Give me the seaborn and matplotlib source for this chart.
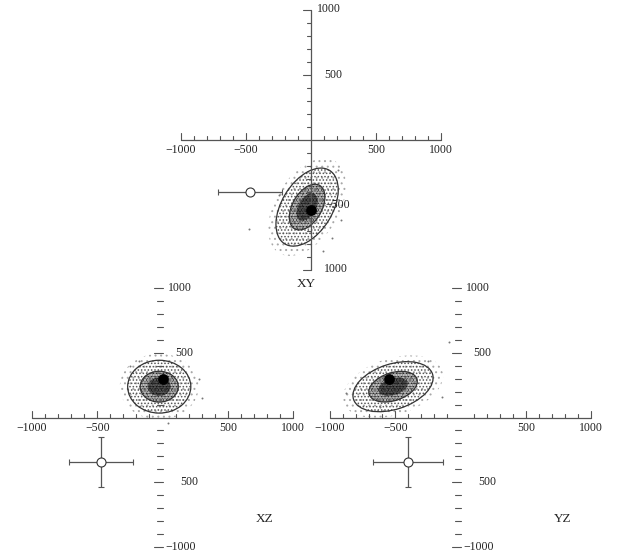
import pandas as pd
import seaborn as sns
import matplotlib.pyplot as plt
from matplotlib.patches import Ellipse

# cloud mean (filled dot) and reference point (open circle), order X, Y, Z
mean_xyz = [0, -545, 300]
ref_xyz = [-470, -405, -345]
ref_err = [245, 268, 195]

panels = ["XY", "XZ", "YZ"]
# ellipse centres and (full width, full height, angle)
ell_center = {"XY": (-30, -520), "XZ": (-25, 238), "YZ": (-517, 238)}
outer_ell = {"XY": (662, 390, 58.6), "XZ": (484, 408, 0), "YZ": (636, 350, 18)}
inner_ell = {"XY": (385, 225, 60), "XZ": (292, 238, 0), "YZ": (385, 215, 18)}

# a few stray points outside the main cloud
stray_x = {"XY": [-477, 208, 160, -250, 90, 230],
           "XZ": [306, -250, 280, -180, 40],
           "YZ": [-90, -250, -140, -880, -620]}
stray_y = {"XY": [-685, -235, -760, -430, -860, -620],
           "XZ": [153, 400, 300, 440, -40],
           "YZ": [580, 440, 160, 190, 80]}

# which coordinate goes on each panel's axes
panel_idx = {"XY": (0, 1), "XZ": (0, 2), "YZ": (1, 2)}
ref_has_vbar = {"XY": False, "XZ": True, "YZ": True}

# axes boxes in pixels: left, right, top, bottom of the -1000..1000 square
W, H = 618, 559
boxes = {"XY": (181, 441, 9.5, 269.5), "XZ": (32, 293, 288, 547), "YZ": (330, 591, 288, 547)}

sns.set_theme(style="white")
plt.rcParams['font.family'] = ['Liberation Serif', 'DejaVu Serif']
plt.rcParams['hatch.linewidth'] = 0.7
AX = "#555555"
TXT = "#222222"

fig = plt.figure(figsize=(W / 100, H / 100), dpi=100)


def cross_axes(ax, solid_v):
    ax.plot([-1000, 1000], [0, 0], color=AX, lw=0.9, clip_on=False)
    for t in range(-1000, 1001, 100):
        if t == 0:
            continue
        ln = 52 if t % 500 == 0 else 24
        ax.plot([t, t], [0, ln], color=AX, lw=0.8, clip_on=False)
    if solid_v:
        ax.plot([0, 0], [-1000, 1000], color=AX, lw=0.9, clip_on=False)
        for t in range(-1000, 1001, 100):
            if t == 0:
                continue
            ln = 60 if t % 500 == 0 else 30
            ax.plot([-ln, 0], [t, t], color=AX, lw=0.8, clip_on=False)
    else:
        for t in range(-1000, 1001, 100):
            if t == 0:
                continue
            ln = 68 if t % 500 == 0 else 44
            ax.plot([-ln, 0], [t, t], color=AX, lw=0.8, clip_on=False)


for name in panels:
    l, r, t, b = boxes[name]
    ax = fig.add_axes([l / W, 1 - b / H, (r - l) / W, (b - t) / H])
    ax.set_xlim(-1000, 1000)
    ax.set_ylim(-1000, 1000)
    ax.axis("off")

    cx, cy = ell_center[name]
    ow, oh, oa = outer_ell[name]
    iw, ih, ia = inner_ell[name]
    # stippled cloud, denser towards the middle
    layers = [(1.25, ow, oh, oa, "...", "#a8a8a8"),
              (1.0, ow, oh, oa, ".....", "#555555"),
              (1.0, iw, ih, ia, "..........", "#111111"),
              (0.6, iw, ih, ia, "..............", "#000000")]
    for k, w, h, a, hatch, col in layers:
        ax.add_patch(Ellipse((cx, cy), w * k, h * k, angle=a, fill=False,
                             hatch=hatch, edgecolor=col, lw=0, clip_on=False))
    sns.scatterplot(x=stray_x[name], y=stray_y[name], ax=ax, s=2,
                    color="#777777", linewidth=0, legend=False, clip_on=False)

    cross_axes(ax, solid_v=(name == "XY"))

    for w, h, a in [(ow, oh, oa), (iw, ih, ia)]:
        ax.add_patch(Ellipse((cx, cy), w, h, angle=a, fill=False,
                             edgecolor="#333333", lw=0.9, clip_on=False))

    i, j = panel_idx[name]
    pts = pd.DataFrame({"u": [mean_xyz[i]], "v": [mean_xyz[j]]})
    sns.scatterplot(data=pts, x="u", y="v", ax=ax, s=60, color="black",
                    linewidth=0, legend=False, clip_on=False, zorder=5)
    yerr = ref_err[j] if ref_has_vbar[name] else None
    ax.errorbar(ref_xyz[i], ref_xyz[j], xerr=ref_err[i], yerr=yerr, fmt="o",
                mfc="white", mec="#333333", ms=6.5, mew=0.8, ecolor="#555555",
                elinewidth=0.9, capsize=2, capthick=0.8, clip_on=False, zorder=4)

    # tick labels
    fs = 8.5
    for v, s in [(-1000, "\u22121000"), (-500, "\u2212500"), (500, "500"), (1000, "1000")]:
        ax.text(v, -80, s, ha="center", va="center", fontsize=fs, color=TXT)
    if name == "XY":
        vlabels = [(1000, 45, "1000"), (500, 100, "500"),
                   (-500, 110, "\u2212500"), (-1000, 100, "1000")]
    else:
        vlabels = [(1000, 45, "1000"), (500, 100, "500"),
                   (-500, 135, "500"), (-1000, 20, "\u22121000")]
    for v, dx, s in vlabels:
        ax.text(dx, v, s, ha="left", va="center", fontsize=fs, color=TXT)

    if name == "XY":
        ax.text(-40, -1110, "XY", ha="center", va="center", fontsize=9.5, color=TXT)
    else:
        ax.text(780, -780, name, ha="center", va="center", fontsize=9.5, color=TXT)

fig.savefig("out.png", dpi=100)
